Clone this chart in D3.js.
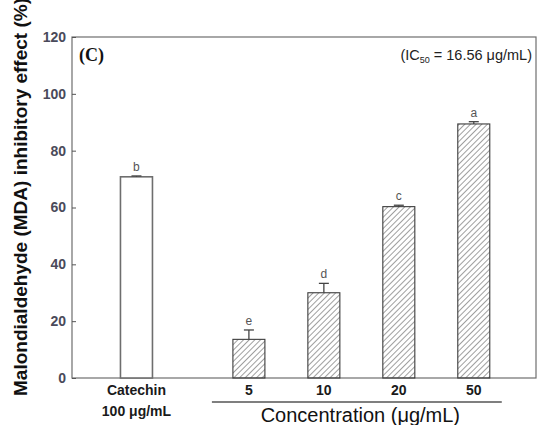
<!DOCTYPE html>
<html>
<head>
<meta charset="utf-8">
<script src="https://cdn.jsdelivr.net/npm/d3@7"></script>
<style>
  body { margin: 0; background: #fff; }
  svg { display: block; }
</style>
</head>
<body>
<svg id="chart" width="540" height="425"></svg>
<script>
const width = 540;
const height = 425;

// data
const categories = ["Catechin", "5", "10", "20", "50"];
const values = [70.8, 13.6, 30.0, 60.3, 89.4];
const errors = [0.3, 3.3, 3.3, 0.5, 0.8];
const letters = ["b", "e", "d", "c", "a"];
const yTicks = [0, 20, 40, 60, 80, 100, 120];

const margin = { left: 72, right: 4, top: 37, bottom: 47 };
const labelFont = "Liberation Sans, Arial, sans-serif";

let svg = d3.select("#chart");

// hatch for the concentration bars
let defs = svg.append("defs");
defs
  .append("pattern")
  .attr("id", "hatch")
  .attr("patternUnits", "userSpaceOnUse")
  .attr("width", 4)
  .attr("height", 4)
  .attr("patternTransform", "rotate(45)")
  .append("line")
  .attr("x1", 0)
  .attr("y1", 0)
  .attr("x2", 0)
  .attr("y2", 4)
  .attr("stroke", "#6a6a6a")
  .attr("stroke-width", 1.3);

const y = d3
  .scaleLinear()
  .domain([0, 120])
  .range([height - margin.bottom, margin.top]);

// catechin sits apart: the concentration group starts half a slot later
const slot = (i) => (i === 0 ? 0 : i + 0.5);
const x = d3.scaleLinear().domain([-0.86, 5.33]).range([margin.left, width - margin.right]);
const barW = 32;

// frame
svg
  .append("rect")
  .attr("x", margin.left)
  .attr("y", margin.top)
  .attr("width", width - margin.right - margin.left)
  .attr("height", y(0) - margin.top)
  .attr("fill", "none")
  .attr("stroke", "#6e6e6e")
  .attr("stroke-width", 1.2);

// y axis, ticks pointing inward
let yAxis = svg
  .append("g")
  .attr("transform", `translate(${margin.left},0)`)
  .call(d3.axisRight(y).tickValues(yTicks).tickSize(4).tickFormat(d3.format("d")));
yAxis.select(".domain").remove();
yAxis.selectAll("line").attr("stroke", "#555");
yAxis
  .selectAll("text")
  .attr("x", -6)
  .attr("text-anchor", "end")
  .attr("font-family", labelFont)
  .attr("font-size", 14)
  .attr("font-weight", "bold")
  .attr("fill", "#4a4a5a");

// bars
svg
  .append("g")
  .selectAll("rect")
  .data(values)
  .join("rect")
  .attr("x", (d, i) => x(slot(i)) - barW / 2)
  .attr("y", (d) => y(d))
  .attr("width", barW)
  .attr("height", (d) => y(0) - y(d))
  .attr("fill", (d, i) => (i === 0 ? "#fff" : "url(#hatch)"))
  .attr("stroke", (d, i) => (i === 0 ? "#6e6e6e" : "#3c3c3c"))
  .attr("stroke-width", (d, i) => (i === 0 ? 1.6 : 1.1));

// error bars (upper half only)
let err = svg.append("g").attr("stroke", "#444").attr("stroke-width", 1.3);
values.forEach((v, i) => {
  const cx = x(slot(i));
  err.append("line").attr("x1", cx).attr("x2", cx).attr("y1", y(v)).attr("y2", y(v + errors[i]));
  err
    .append("line")
    .attr("x1", cx - 5)
    .attr("x2", cx + 5)
    .attr("y1", y(v + errors[i]))
    .attr("y2", y(v + errors[i]));
});

// significance letters
svg
  .append("g")
  .selectAll("text")
  .data(letters)
  .join("text")
  .attr("x", (d, i) => x(slot(i)))
  .attr("y", (d, i) => y(values[i] + errors[i]) - 5)
  .attr("text-anchor", "middle")
  .attr("font-family", labelFont)
  .attr("font-size", 12)
  .attr("fill", "#555")
  .text((d) => d);

// category labels
svg
  .append("g")
  .selectAll("text")
  .data(categories)
  .join("text")
  .attr("x", (d, i) => x(slot(i)))
  .attr("y", y(0) + 17)
  .attr("text-anchor", "middle")
  .attr("font-family", labelFont)
  .attr("font-size", 14)
  .attr("font-weight", "bold")
  .attr("fill", "#1a1a1a")
  .text((d) => d);

svg
  .append("text")
  .attr("x", x(slot(0)))
  .attr("y", y(0) + 38)
  .attr("text-anchor", "middle")
  .attr("font-family", labelFont)
  .attr("font-size", 14)
  .attr("font-weight", "bold")
  .attr("fill", "#1a1a1a")
  .text("100 μg/mL");

// bracket under the concentration group
svg
  .append("line")
  .attr("x1", x(slot(1)) - 37)
  .attr("x2", x(slot(4)) + 28)
  .attr("y1", y(0) + 24)
  .attr("y2", y(0) + 24)
  .attr("stroke", "#555")
  .attr("stroke-width", 1.3);

svg
  .append("text")
  .attr("x", (x(slot(1)) + x(slot(4))) / 2 - 1)
  .attr("y", y(0) + 44)
  .attr("text-anchor", "middle")
  .attr("font-family", labelFont)
  .attr("font-size", 20)
  .attr("fill", "#111")
  .text("Concentration (μg/mL)");

// y title
svg
  .append("text")
  .attr("transform", `translate(27,197) rotate(-90)`)
  .attr("text-anchor", "middle")
  .attr("font-family", labelFont)
  .attr("font-size", 19)
  .attr("font-weight", "bold")
  .attr("fill", "#111")
  .text("Malondialdehyde (MDA) inhibitory effect (%)");

// panel tag and IC50 note
svg
  .append("text")
  .attr("x", margin.left + 7)
  .attr("y", margin.top + 24)
  .attr("font-family", "Liberation Serif, Times New Roman, serif")
  .attr("font-size", 18)
  .attr("font-weight", "bold")
  .attr("fill", "#111")
  .text("(C)");

let ic = svg
  .append("text")
  .attr("x", width - margin.right - 4)
  .attr("y", margin.top + 23)
  .attr("text-anchor", "end")
  .attr("font-family", labelFont)
  .attr("font-size", 14.5)
  .attr("fill", "#222");
ic.append("tspan").text("(IC");
ic.append("tspan").attr("font-size", 9).attr("dy", 3).text("50");
ic.append("tspan").attr("dy", -3).text(" = 16.56 μg/mL)");
</script>
</body>
</html>
